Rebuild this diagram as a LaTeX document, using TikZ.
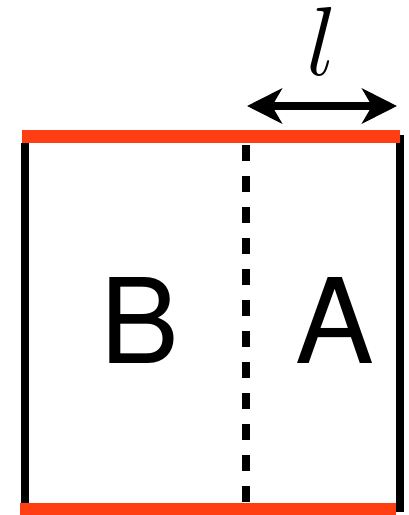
\RequirePackage{fix-cm}
\documentclass[tikz,border=0pt]{standalone}
\usepackage{fontspec}
\setmainfont{TeX Gyre Heros}
\usetikzlibrary{arrows.meta}
\definecolor{platered}{RGB}{255,62,20}
\tikzset{
  wall/.style={line width=8pt},
  plate/.style={platered, line width=13pt},
  letter/.style={anchor=base, font=\fontsize{118}{118}\selectfont}
}

\begin{document}
\begin{tikzpicture}[x=1pt, y=-1pt, every node/.style={inner sep=0pt}]
\useasboundingbox (0,0) rectangle (409,515);
% side walls
\draw[wall] (25,143) -- (25,503);
\draw[wall] (400,135) -- (400,512);
% top and bottom plates
\draw[plate] (22,136) -- (400,136);
\draw[plate] (20,509) -- (396,509);
% interface
\draw[line width=8pt, dash pattern=on 16pt off 15pt] (246,145) -- (246,505);
\node[letter] (b) at (139.5,363) {B};
\node[letter] (a) at (335,363) {A};
% width of A
\coordinate (lleft) at (247,106);
\coordinate (lright) at (397,106);
\draw[{Stealth[length=35pt,width=35pt,inset=10pt]}-{Stealth[length=35pt,width=35pt,inset=10pt]}, line width=8pt] (lleft) -- (lright);
\node[anchor=base, font=\fontsize{98}{98}\selectfont] (ell) at (322,75) {$l$};
\end{tikzpicture}
\end{document}
